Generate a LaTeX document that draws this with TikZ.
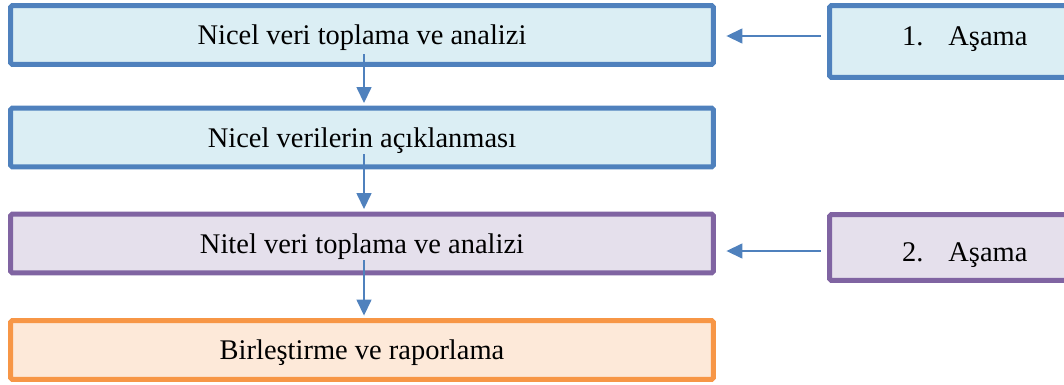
\documentclass[tikz,border=0pt]{standalone}
\usepackage{fontspec}
\setmainfont{Liberation Serif}
\usepackage{xcolor}
\usetikzlibrary{arrows.meta, positioning}

\definecolor{blueline}{HTML}{4F81BD}
\definecolor{bluefill}{HTML}{DBEEF4}
\definecolor{purpleline}{HTML}{8064A2}
\definecolor{purplefill}{HTML}{E5E0EC}
\definecolor{orangeline}{HTML}{F79646}
\definecolor{orangefill}{HTML}{FDE9D9}

\tikzset{
	boxtext/.style={font=\fontsize{16.2}{19}\selectfont, text depth=0pt},
	box/.style={draw, line width=0.1cm, rounded corners=1pt, inner sep=0pt, boxtext},
	mainbox/.style={box, minimum width=14.06cm, minimum height=1.18cm},
	phasebox/.style={box, minimum width=5.41cm},
	flow/.style={draw=blueline, line width=0.03cm, -{Triangle[length=0.32cm,width=0.3cm]}}
}

\begin{document}
\begin{tikzpicture}[x=0.02cm, y=-0.02cm]
	\useasboundingbox (0,0) rectangle (1064,385);
	
	\node[mainbox, draw=blueline, fill=bluefill] (nicel) at (362,35) {Nicel veri toplama ve analizi};
	\node[mainbox, draw=blueline, fill=bluefill] (aciklama) at (362,137.5) {Nicel verilerin açıklanması};
	\node[mainbox, draw=purpleline, fill=purplefill] (nitel) at (362,243.5) {Nitel veri toplama ve analizi};
	\node[mainbox, draw=orangeline, fill=orangefill] (rapor) at (362,350) {Birleştirme ve raporlama};
	
	\node[phasebox, minimum height=1.44cm, draw=blueline, fill=bluefill,
		label={[yshift=0.11cm, boxtext]center:1.\hspace{0.5cm}Aşama}] (asama1) at (964.75,41.5) {};
	\node[phasebox, minimum height=1.32cm, draw=purpleline, fill=purplefill,
		label={[yshift=-0.1cm, boxtext]center:2.\hspace{0.5cm}Aşama}] (asama2) at (964.75,247.5) {};
	
	% akis oklari
	\draw[flow, shorten >=1.4pt] ([xshift=0.04cm,yshift=0.25cm]nicel.south) coordinate (v1) -- (v1 |- aciklama.north);
	\draw[flow, shorten >=1.4pt] ([xshift=0.04cm,yshift=0.3cm]aciklama.south) coordinate (v2) -- (v2 |- nitel.north);
	\draw[flow, shorten >=1.4pt] ([xshift=0.04cm,yshift=0.3cm]nitel.south) coordinate (v3) -- (v3 |- rapor.north);
	
	\draw[flow, shorten >=0.21cm] ([xshift=-0.13cm,yshift=0.11cm]asama1.west) coordinate (h1) -- (h1 -| nicel.east);
	\draw[flow, shorten >=0.21cm] ([xshift=-0.13cm,yshift=-0.07cm]asama2.west) coordinate (h2) -- (h2 -| nitel.east);
\end{tikzpicture}
\end{document}
